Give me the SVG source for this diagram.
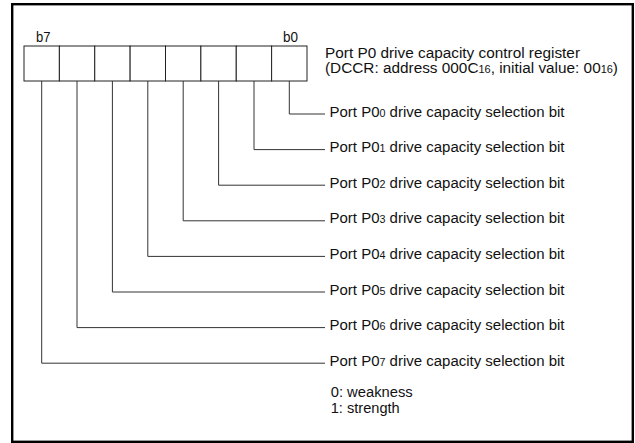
<svg xmlns="http://www.w3.org/2000/svg" width="635" height="443" viewBox="0 0 635 443">
<style>
text{font-family:"Liberation Sans",Arial,sans-serif;font-size:14px;fill:#111}
.sub{font-size:10px}
.cell{fill:#fff;stroke:#222;stroke-width:1}
.conn{fill:none;stroke:#333;stroke-width:1}
</style>
<rect x="12.2" y="4.2" width="620.6" height="437.6" fill="#fff" stroke="#000" stroke-width="2.4"/>
<g id="register">
<rect class="cell" x="24" y="46" width="35.375" height="35"/>
<rect class="cell" x="59.375" y="46" width="35.375" height="35"/>
<rect class="cell" x="94.75" y="46" width="35.375" height="35"/>
<rect class="cell" x="130.125" y="46" width="35.375" height="35"/>
<rect class="cell" x="165.5" y="46" width="35.375" height="35"/>
<rect class="cell" x="200.875" y="46" width="35.375" height="35"/>
<rect class="cell" x="236.25" y="46" width="35.375" height="35"/>
<rect class="cell" x="271.625" y="46" width="35.375" height="35"/>
<text x="36" y="42" textLength="14.5" lengthAdjust="spacingAndGlyphs">b7</text>
<text x="283" y="42" textLength="15" lengthAdjust="spacingAndGlyphs">b0</text>
</g>
<g id="title">
<text x="325" y="58" textLength="255" lengthAdjust="spacingAndGlyphs">Port P0 drive capacity control register</text>
<text x="325" y="72.5" textLength="293" lengthAdjust="spacingAndGlyphs">(DCCR: address 000C<tspan class="sub">16</tspan>, initial value: 00<tspan class="sub">16</tspan>)</text>
</g>
<g id="connectors">
<polyline class="conn" points="289.3,81 289.3,114 325,114"/>
<polyline class="conn" points="254,81 254,149.6 325,149.6"/>
<polyline class="conn" points="218.6,81 218.6,185.2 325,185.2"/>
<polyline class="conn" points="183.2,81 183.2,220.8 325,220.8"/>
<polyline class="conn" points="147.8,81 147.8,256.4 325,256.4"/>
<polyline class="conn" points="112.4,81 112.4,292 325,292"/>
<polyline class="conn" points="77,81 77,327.6 325,327.6"/>
<polyline class="conn" points="41.7,81 41.7,363.2 325,363.2"/>
</g>
<g id="bit0"><text x="329.5" y="116.5" textLength="235" lengthAdjust="spacingAndGlyphs">Port P0<tspan class="sub">0</tspan> drive capacity selection bit</text></g>
<g id="bit1"><text x="329.5" y="152.1" textLength="235" lengthAdjust="spacingAndGlyphs">Port P0<tspan class="sub">1</tspan> drive capacity selection bit</text></g>
<g id="bit2"><text x="329.5" y="187.7" textLength="235" lengthAdjust="spacingAndGlyphs">Port P0<tspan class="sub">2</tspan> drive capacity selection bit</text></g>
<g id="bit3"><text x="329.5" y="223.3" textLength="235" lengthAdjust="spacingAndGlyphs">Port P0<tspan class="sub">3</tspan> drive capacity selection bit</text></g>
<g id="bit4"><text x="329.5" y="258.9" textLength="235" lengthAdjust="spacingAndGlyphs">Port P0<tspan class="sub">4</tspan> drive capacity selection bit</text></g>
<g id="bit5"><text x="329.5" y="294.5" textLength="235" lengthAdjust="spacingAndGlyphs">Port P0<tspan class="sub">5</tspan> drive capacity selection bit</text></g>
<g id="bit6"><text x="329.5" y="330.1" textLength="235" lengthAdjust="spacingAndGlyphs">Port P0<tspan class="sub">6</tspan> drive capacity selection bit</text></g>
<g id="bit7"><text x="329.5" y="365.7" textLength="235" lengthAdjust="spacingAndGlyphs">Port P0<tspan class="sub">7</tspan> drive capacity selection bit</text></g>
<g id="legend">
<text x="330.7" y="397" textLength="82" lengthAdjust="spacingAndGlyphs">0: weakness</text>
<text x="330.7" y="413" textLength="69" lengthAdjust="spacingAndGlyphs">1: strength</text>
</g>
</svg>
